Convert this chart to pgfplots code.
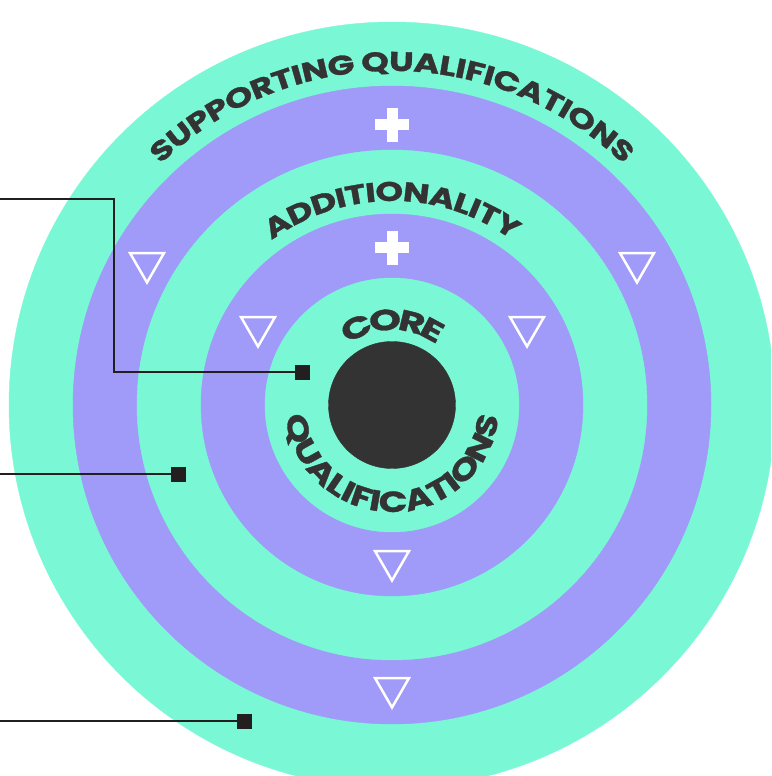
\documentclass[border=0pt]{standalone}
\usepackage{pgfplots}
\pgfplotsset{compat=1.18}
\usepackage{fontspec}
\usetikzlibrary{decorations.text}
\newfontfamily\wide[FakeStretch=1.3, FakeBold=1.2]{Poppins}
\newfontfamily\wider[FakeStretch=1.4, FakeBold=1.2]{Poppins}
\definecolor{mint}{HTML}{7AF8D5}
\definecolor{lav}{HTML}{A09AF8}
\definecolor{coredark}{HTML}{333333}
\definecolor{ink}{HTML}{231F20}

% #1 text, #2 font, #3 inner xsep (tightens or loosens letters)
\tikzset{ringlabel/.style n args={3}{decorate, decoration={text effects along path, text={#1}, text align=center,
  text effects/.cd, text along path,
  characters={text=coredark, inner xsep=#3, font=#2}}}}

\begin{document}
\begin{tikzpicture}
\begin{axis}[
  x=1pt, y=1pt,
  xmin=-392, xmax=379, ymin=-371, ymax=405,
  hide axis, clip marker paths=true,
]
% rings, outermost first (radius in px)
\addplot[color=mint, only marks, mark=*, mark size=383pt] coordinates {(0,0)};
\addplot[color=lav, only marks, mark=*, mark size=319pt] coordinates {(0,0)};
\addplot[color=mint, only marks, mark=*, mark size=255pt] coordinates {(0,0)};
\addplot[color=lav, only marks, mark=*, mark size=191pt] coordinates {(0,0)};
\addplot[color=mint, only marks, mark=*, mark size=127pt] coordinates {(0,0)};
\addplot[color=coredark, only marks, mark=*, mark size=63.5pt] coordinates {(0,0)};

% down triangles
\addplot[only marks, mark=triangle, mark size=19.5pt, mark options={white, line width=2.5pt, rotate=180}]
  coordinates {(-245,142) (245,142) (-134,78) (135,78) (0,-156) (0,-283)};
% plus signs
\addplot[only marks, mark=+, mark size=17pt, mark options={white, line width=11pt}]
  coordinates {(0,280) (0,157)};

% connectors
\addplot[ink, line width=2pt, mark=none] coordinates {(-400,206) (-278,206) (-278,33) (-90,33)};
\addplot[ink, line width=2pt, mark=none] coordinates {(-400,-69) (-214,-69)};
\addplot[ink, line width=2pt, mark=none] coordinates {(-400,-316) (-148,-316)};
\addplot[only marks, mark=square*, mark size=7pt, mark options={ink}]
  coordinates {(-90,33) (-214,-69) (-148,-316)};

% ring labels
\path[ringlabel={SUPPORTING QUALIFICATIONS}{\wide\bfseries\fontsize{27}{27}\selectfont}{-0.3pt}]
  (axis cs:-289.25,167) arc[start angle=150, end angle=30, radius=334];
\path[ringlabel={ADDITIONALITY}{\wide\bfseries\fontsize{27}{27}\selectfont}{-0.5pt}]
  (axis cs:-176.67,102) arc[start angle=150, end angle=30, radius=204];
\path[ringlabel={CORE}{\wider\bfseries\fontsize{29}{29}\selectfont}{-2.6pt}]
  (axis cs:-64.95,37.5) arc[start angle=150, end angle=30, radius=75];
\path[ringlabel={QUALIFICATIONS}{\wide\bfseries\fontsize{29}{29}\selectfont}{-0.1pt}]
  (axis cs:-107,0) arc[start angle=180, end angle=360, radius=107];
\end{axis}
\pgfresetboundingbox
\path[use as bounding box] (current axis.south west) rectangle (current axis.north east);
\end{tikzpicture}
\end{document}
